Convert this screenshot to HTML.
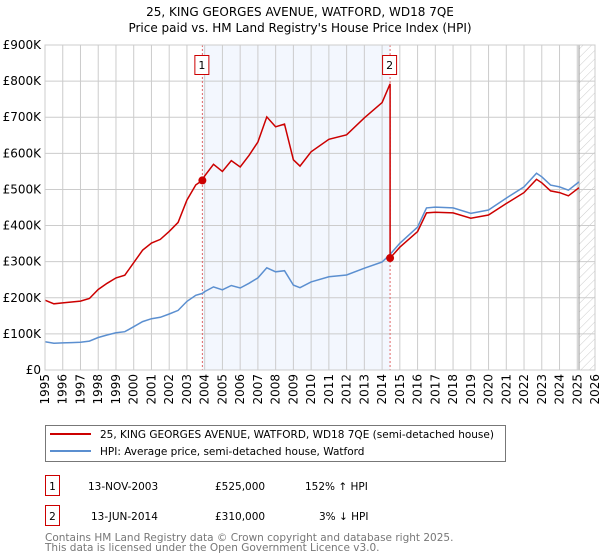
<!DOCTYPE html>
<html><head><meta charset="utf-8"><style>
body{margin:0;background:#fff;}
svg{display:block;font-family:"DejaVu Sans","Liberation Sans",sans-serif;}
</style></head><body>
<svg id="chart" width="600" height="560" viewBox="0 0 600 560">
<defs>
<pattern id="hatch" width="6" height="6" patternUnits="userSpaceOnUse" patternTransform="rotate(45)">
<line x1="0" y1="0" x2="0" y2="6" stroke="#ccc" stroke-width="1"/>
</pattern>
</defs>
<text x="300" y="16" text-anchor="middle" font-size="12">25, KING GEORGES AVENUE, WATFORD, WD18 7QE</text>
<text x="300" y="32" text-anchor="middle" font-size="12">Price paid vs. HM Land Registry's House Price Index (HPI)</text>
<g id="plot"></g>
<g>
<rect x="45.5" y="425.5" width="460" height="36" fill="#fff" stroke="#777"/>
<line x1="50" y1="434" x2="91" y2="434" stroke="#cc0000" stroke-width="2"/>
<text x="100" y="438" font-size="10.5">25, KING GEORGES AVENUE, WATFORD, WD18 7QE (semi-detached house)</text>
<line x1="50" y1="451" x2="91" y2="451" stroke="#5b8fd0" stroke-width="2"/>
<text x="100" y="455" font-size="10.5">HPI: Average price, semi-detached house, Watford</text>
</g>
<g font-size="10.5">
<rect x="45.5" y="475.5" width="14" height="20" fill="none" stroke="#cc0000"/>
<text x="52.5" y="490" text-anchor="middle">1</text>
<text x="88" y="490">13-NOV-2003</text>
<text x="215" y="490">£525,000</text>
<text x="305" y="490">152% ↑ HPI</text>
<rect x="45.5" y="505.5" width="14" height="20" fill="none" stroke="#cc0000"/>
<text x="52.5" y="520" text-anchor="middle">2</text>
<text x="91" y="520">13-JUN-2014</text>
<text x="215" y="520">£310,000</text>
<text x="319" y="520">3% ↓ HPI</text>
</g>
<text x="45" y="541" font-size="10.5" fill="#777">Contains HM Land Registry data © Crown copyright and database right 2025.</text>
<text x="45" y="551" font-size="10.5" fill="#777">This data is licensed under the Open Government Licence v3.0.</text>
</svg>
<script>
const hpiYears = [1995,1995.5,1996,1996.5,1997,1997.5,1998,1998.5,1999,1999.5,2000,2000.5,2001,2001.5,2002,2002.5,2003,2003.5,2003.87,2004,2004.5,2005,2005.5,2006,2006.5,2007,2007.5,2008,2008.5,2009,2009.37,2010,2011,2012,2013,2014,2014.45,2015,2016,2016.5,2017,2018,2019,2020,2021,2022,2022.7,2023,2023.5,2024,2024.5,2025.1];
const hpiValues = [78,74,75,76,77,80,90,97,103,106,120,134,142,146,155,165,190,207,212,217,230,222,234,227,240,255,283,272,275,235,228,244,258,263,282,299,320,351,396,449,451,449,434,443,476,507,545,535,512,507,498,521];
const saleYears = [2003.87, 2014.45];
const salePrices = [525, 310];
const yTicks = [0,100,200,300,400,500,600,700,800,900];
const yTickLabels = ["£0","£100K","£200K","£300K","£400K","£500K","£600K","£700K","£800K","£900K"];
const xTicks = [1995,1996,1997,1998,1999,2000,2001,2002,2003,2004,2005,2006,2007,2008,2009,2010,2011,2012,2013,2014,2015,2016,2017,2018,2019,2020,2021,2022,2023,2024,2025,2026];

const X0=45,X1=595,Y0=370,Y1=45;
const xs=y=>X0+(y-1995)/(2026-1995)*(X1-X0);
const ys=v=>Y0-v/900*(Y0-Y1);
const NS="http://www.w3.org/2000/svg";
const plot=document.getElementById('plot');
function mk(tag,attrs,parent){const e=document.createElementNS(NS,tag);for(const k in attrs)e.setAttribute(k,attrs[k]);(parent||plot).appendChild(e);return e;}
function hpiAt(t){for(let i=0;i<hpiYears.length-1;i++){if(t<=hpiYears[i+1]){const f=(t-hpiYears[i])/(hpiYears[i+1]-hpiYears[i]);return hpiValues[i]+f*(hpiValues[i+1]-hpiValues[i]);}}return hpiValues[hpiValues.length-1];}

// shaded period
let r=mk('rect',{x:xs(saleYears[0]),y:Y1,width:xs(saleYears[1])-xs(saleYears[0]),height:Y0-Y1,fill:'#eef3fd',opacity:0.7});


// hatch
let h=mk('rect',{x:xs(2025.1),y:Y1,width:X1-xs(2025.1),height:Y0-Y1,fill:'url(#hatch)'});


// grid
yTicks.forEach((v,i)=>{
  const l=mk('line',{x1:X0,x2:X1,y1:ys(v),y2:ys(v),stroke:'#ccc'});
  
  
  const t=mk('text',{x:X0-4,y:ys(v)+4,'text-anchor':'end','font-size':12});
  t.textContent=yTickLabels[i];
  
  
});
xTicks.forEach(y=>{
  const l=mk('line',{x1:xs(y),x2:xs(y),y1:Y1,y2:Y0,stroke:'#ccc'});
  
  
  const t=mk('text',{x:0,y:0,'text-anchor':'end','font-size':12,transform:`translate(${xs(y)+4},${Y0+4}) rotate(-90)`});
  t.textContent=String(y);
  
  
});
let vb=mk('line',{x1:xs(2025.1),x2:xs(2025.1),y1:Y1,y2:Y0,stroke:'#999'});


// sale vertical lines and labels
saleYears.forEach((sy,i)=>{
  const l=mk('line',{x1:xs(sy),x2:xs(sy),y1:Y1,y2:Y0,stroke:'#e06666','stroke-dasharray':'2,2'});
  
  
});
// HPI line
let dh=hpiYears.map((y,i)=>(i?'L':'M')+xs(y).toFixed(1)+','+ys(hpiValues[i]).toFixed(1)).join(' ');
let hp=mk('path',{d:dh,fill:'none',stroke:'#5b8fd0','stroke-width':1.5});


// property line: indexed to sale prices
let pts=[];
hpiYears.forEach((y,i)=>{
  if(y<saleYears[1]) pts.push([y,salePrices[0]*hpiValues[i]/hpiAt(saleYears[0])]);
  else { if(y===saleYears[1]){pts.push([y,salePrices[0]*hpiValues[i]/hpiAt(saleYears[0])]);}
    pts.push([y,salePrices[1]*hpiValues[i]/hpiAt(saleYears[1])]); }
});
let dp=pts.map((p,i)=>(i?'L':'M')+xs(p[0]).toFixed(1)+','+ys(p[1]).toFixed(1)).join(' ');
let pp=mk('path',{d:dp,fill:'none',stroke:'#cc0000','stroke-width':1.5});


saleYears.forEach((sy,i)=>{
  const c=mk('circle',{cx:xs(sy),cy:ys(salePrices[i]),r:4,fill:'#cc0000'});
  
  
  const b=mk('rect',{x:xs(sy)-7.5,y:55.5,width:14,height:19,fill:'#fff',stroke:'#cc0000'});
  
  
  const t=mk('text',{x:xs(sy)-0.5,y:69,'text-anchor':'middle','font-size':11});
  t.textContent=String(i+1);
  
  
});
let fr=mk('rect',{x:X0,y:Y1,width:X1-X0,height:Y0-Y1,fill:'none',stroke:'#ccc'});


</script>
</body></html>
